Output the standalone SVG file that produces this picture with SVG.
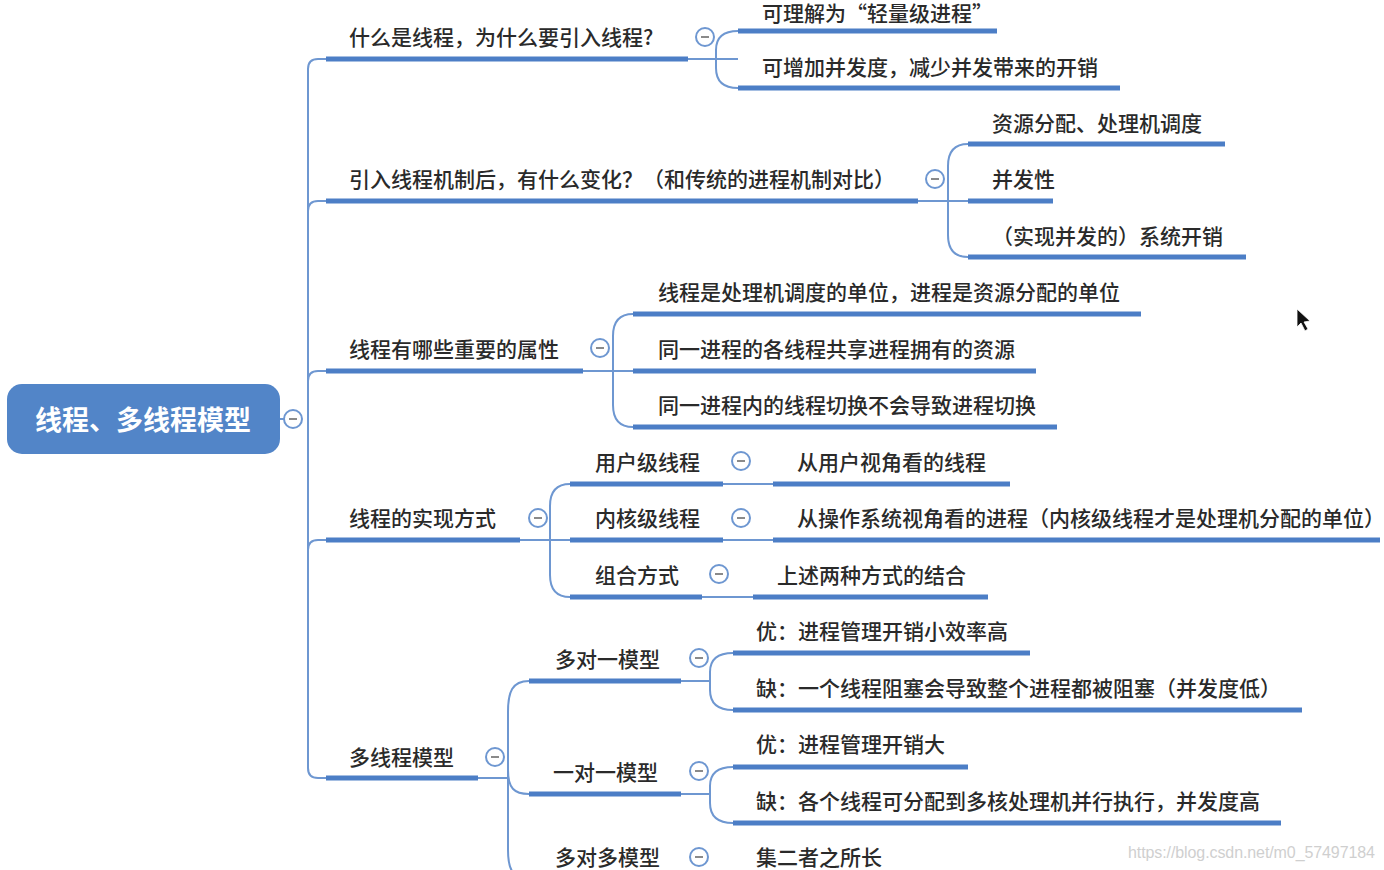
<svg xmlns="http://www.w3.org/2000/svg" width="1384" height="870" viewBox="0 0 1384 870">
<style>
.t{font-family:"Noto Sans CJK SC","Noto Sans",sans-serif;font-size:21px;font-weight:500;fill:#2a2a2a}
.ul{stroke:#4c7ec6;stroke-width:5;fill:none}
.cn{stroke:#6e97d1;stroke-width:2;fill:none}
.cc{fill:#ffffff;stroke:#6e97d1;stroke-width:2}
.cd{stroke:#8a8a8a;stroke-width:2}
</style>
<defs>
<g id="col"><circle class="cc" r="9"/><line class="cd" x1="-4" y1="0" x2="4" y2="0"/></g>
</defs>
<rect width="1384" height="870" fill="#ffffff"/>

<g id="connectors">
<path class="cn" d="M280,419 L302,419"/>
<path class="cn" d="M326,59 L318,59 Q308,59 308,69 L308,768 Q308,778 318,778 L326,778"/>
<path class="cn" d="M308,211 Q308,201 318,201 L326,201"/>
<path class="cn" d="M308,381 Q308,371 318,371 L326,371"/>
<path class="cn" d="M308,550 Q308,540 318,540 L326,540"/>
<path class="cn" d="M688,59 L738,59"/>
<path class="cn" d="M738,31 Q716,31 716,50 L716,68 Q716,88 738,88"/>
<path class="cn" d="M918,201 L968,201"/>
<path class="cn" d="M968,144 Q948,144 948,166 L948,235 Q948,257 968,257"/>
<path class="cn" d="M583,371 L633,371"/>
<path class="cn" d="M633,314 Q613,314 613,336 L613,405 Q613,427 633,427"/>
<path class="cn" d="M520,540 L570,540"/>
<path class="cn" d="M570,484 Q550,484 550,506 L550,575 Q550,597 570,597"/>
<path class="cn" d="M723,484 L773,484"/>
<path class="cn" d="M723,540 L773,540"/>
<path class="cn" d="M702,597 L753,597"/>
<path class="cn" d="M478,778 L508,778"/>
<path class="cn" d="M529,681 C512,681 508,692 508,712 L508,850 C508,868 512,879 529,879"/>
<path class="cn" d="M508,770 C508,788 514,794 529,794"/>
<path class="cn" d="M681,681 L710,681"/>
<path class="cn" d="M733,653 Q710,653 710,672 L710,690 Q710,710 733,710"/>
<path class="cn" d="M681,794 L710,794"/>
<path class="cn" d="M733,767 Q710,767 710,786 L710,803 Q710,823 733,823"/>
</g>

<g id="root">
<rect x="7" y="384" width="273" height="70" rx="15" fill="#5285c8"/>
<text x="143" y="430" text-anchor="middle" font-family="Noto Sans CJK SC, sans-serif" font-size="27" font-weight="bold" fill="#ffffff">线程、多线程模型</text>
<use href="#col" x="293" y="419"/>
</g>

<g id="n1">
<text class="t" x="349" y="45">什么是线程，为什么要引入线程?</text>
<line class="ul" x1="326" y1="59" x2="688" y2="59"/>
<use href="#col" x="705" y="37"/>
</g>
<g id="n1a"><text class="t" x="762" y="21">可理解为“轻量级进程”</text><line class="ul" x1="738" y1="31" x2="997" y2="31"/></g>
<g id="n1b"><text class="t" x="762" y="75">可增加并发度，减少并发带来的开销</text><line class="ul" x1="738" y1="88" x2="1120" y2="88"/></g>

<g id="n2">
<text class="t" x="349" y="187">引入线程机制后，有什么变化？（和传统的进程机制对比）</text>
<line class="ul" x1="326" y1="201" x2="918" y2="201"/>
<use href="#col" x="935" y="179"/>
</g>
<g id="n2a"><text class="t" x="992" y="131">资源分配、处理机调度</text><line class="ul" x1="968" y1="144" x2="1225" y2="144"/></g>
<g id="n2b"><text class="t" x="992" y="187">并发性</text><line class="ul" x1="968" y1="201" x2="1053" y2="201"/></g>
<g id="n2c"><text class="t" x="992" y="244">（实现并发的）系统开销</text><line class="ul" x1="968" y1="257" x2="1246" y2="257"/></g>

<g id="n3">
<text class="t" x="349" y="357">线程有哪些重要的属性</text>
<line class="ul" x1="326" y1="371" x2="583" y2="371"/>
<use href="#col" x="600" y="348"/>
</g>
<g id="n3a"><text class="t" x="658" y="300">线程是处理机调度的单位，进程是资源分配的单位</text><line class="ul" x1="633" y1="314" x2="1141" y2="314"/></g>
<g id="n3b"><text class="t" x="658" y="357">同一进程的各线程共享进程拥有的资源</text><line class="ul" x1="633" y1="371" x2="1036" y2="371"/></g>
<g id="n3c"><text class="t" x="658" y="413">同一进程内的线程切换不会导致进程切换</text><line class="ul" x1="633" y1="427" x2="1057" y2="427"/></g>

<g id="n4">
<text class="t" x="349" y="526">线程的实现方式</text>
<line class="ul" x1="326" y1="540" x2="520" y2="540"/>
<use href="#col" x="538" y="518"/>
</g>
<g id="n4a"><text class="t" x="595" y="470">用户级线程</text><line class="ul" x1="570" y1="484" x2="723" y2="484"/><use href="#col" x="741" y="461"/></g>
<g id="n4b"><text class="t" x="595" y="526">内核级线程</text><line class="ul" x1="570" y1="540" x2="723" y2="540"/><use href="#col" x="741" y="518"/></g>
<g id="n4c"><text class="t" x="595" y="583">组合方式</text><line class="ul" x1="570" y1="597" x2="702" y2="597"/><use href="#col" x="719" y="574"/></g>
<g id="n4a1"><text class="t" x="797" y="470">从用户视角看的线程</text><line class="ul" x1="773" y1="484" x2="1010" y2="484"/></g>
<g id="n4b1"><text class="t" x="797" y="526">从操作系统视角看的进程（内核级线程才是处理机分配的单位）</text><line class="ul" x1="773" y1="540" x2="1380" y2="540"/></g>
<g id="n4c1"><text class="t" x="777" y="583">上述两种方式的结合</text><line class="ul" x1="753" y1="597" x2="988" y2="597"/></g>

<g id="n5">
<text class="t" x="349" y="765">多线程模型</text>
<line class="ul" x1="326" y1="778" x2="478" y2="778"/>
<use href="#col" x="495" y="757"/>
</g>
<g id="n5a"><text class="t" x="555" y="667">多对一模型</text><line class="ul" x1="529" y1="681" x2="681" y2="681"/><use href="#col" x="699" y="658"/></g>
<g id="n5b"><text class="t" x="553" y="780">一对一模型</text><line class="ul" x1="529" y1="794" x2="681" y2="794"/><use href="#col" x="699" y="771"/></g>
<g id="n5c"><text class="t" x="555" y="865">多对多模型</text><use href="#col" x="699" y="857"/></g>
<g id="n5a1"><text class="t" x="756" y="639">优：进程管理开销小效率高</text><line class="ul" x1="733" y1="653" x2="1030" y2="653"/></g>
<g id="n5a2"><text class="t" x="756" y="696">缺：一个线程阻塞会导致整个进程都被阻塞（并发度低）</text><line class="ul" x1="733" y1="710" x2="1302" y2="710"/></g>
<g id="n5b1"><text class="t" x="756" y="752">优：进程管理开销大</text><line class="ul" x1="733" y1="767" x2="968" y2="767"/></g>
<g id="n5b2"><text class="t" x="756" y="809">缺：各个线程可分配到多核处理机并行执行，并发度高</text><line class="ul" x1="733" y1="823" x2="1281" y2="823"/></g>
<g id="n5c1"><text class="t" x="756" y="865">集二者之所长</text></g>

<text x="1128" y="858" font-family="Liberation Sans, sans-serif" font-size="16" fill="#cfcfcf" textLength="247">https://blog.csdn.net/m0_57497184</text>
<path d="M1297,309 L1297,327 L1301,323 L1305,331 L1308,329 L1304,322 L1310,321 Z" fill="#111111" stroke="#ffffff" stroke-width="0.8"/>
</svg>
